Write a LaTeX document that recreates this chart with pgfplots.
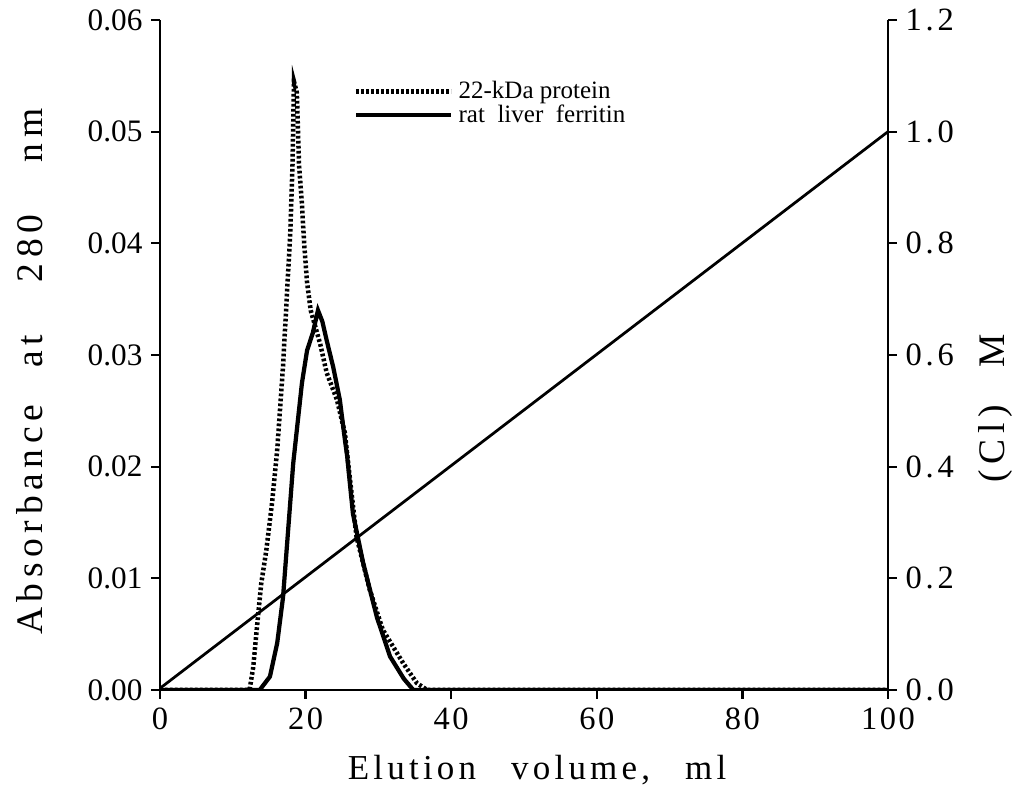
\documentclass[border=0pt]{standalone}
\usepackage{pgfplots}
\pgfplotsset{compat=1.18}
\usepackage{fontspec}
\setmainfont{Liberation Serif}
\newfontfamily\spaced[LetterSpace=8]{Liberation Serif}
\newfontfamily\midspaced[LetterSpace=12]{Liberation Serif}
\newfontfamily\wide[LetterSpace=15]{Liberation Serif}

\pgfplotsset{
  common/.style={
    scale only axis, width=291.2pt, height=268pt,
    xmin=0, xmax=100,
    tick align=outside,
    major tick length=3.5pt,
    axis line style={line width=1.1pt},
    every tick/.style={line width=0.9pt, black},
    /pgf/number format/assume math mode=true,
    ticklabel style={font=\fontsize{12.5}{14}\selectfont},
  }
}

\begin{document}
\begin{tikzpicture}
\begin{axis}[common, name=ax,
    ymin=0, ymax=0.06,
    axis y line*=left, axis x line*=bottom,
    xtick={0,20,40,60,80,100},
    ytick={0,0.01,0.02,0.03,0.04,0.05,0.06},
    yticklabel style={/pgf/number format/fixed, /pgf/number format/fixed zerofill, /pgf/number format/precision=2},
    scaled y ticks=false,
    xticklabel style={font=\spaced\fontsize{13}{15}\selectfont},
    xlabel={\midspaced\fontsize{14}{15}\selectfont Elution\quad volume,\quad ml},
    xlabel style={at={(axis description cs:0.518,0)}, anchor=center, yshift=-32pt},
    ylabel={\wide\fontsize{15}{16}\selectfont Absorbance\quad at\quad\ 280\quad\ nm},
    ylabel style={at={(axis description cs:0,0.475)}, anchor=center, yshift=52pt},
    legend style={draw=none, fill=none, at={(axis description cs:0.266,0.917)}, anchor=north west,
      font=\fontsize{10}{10}\selectfont, row sep=-3pt, inner sep=0pt},
    legend cell align=left,
    legend image code/.code={\draw[#1] (0pt,0pt) -- (38pt,0pt);},
]
\addplot[black, line width=1.8pt, dash pattern=on 1.1pt off 0.9pt] coordinates {
  (0,0) (12.3,0) (12.8,0.002) (13.3,0.0055) (13.9,0.0095) (14.6,0.0125)
  (15.4,0.0168) (16.1,0.0215) (16.9,0.029) (17.4,0.035) (17.9,0.041)
  (18.2,0.047) (18.4,0.0545) (18.8,0.0535) (19.1,0.047) (19.5,0.0435)
  (19.8,0.040) (20.2,0.0365) (20.7,0.034) (22.0,0.031) (22.9,0.0284)
  (24.3,0.026) (25.4,0.023) (25.9,0.020) (27.0,0.0137) (28.8,0.009)
  (30.6,0.0054) (33.4,0.0024) (35.3,0.0006) (36.7,0) (100,0)
};
\addlegendentry{22-kDa\ protein}
\addplot[black, line width=1.7pt] coordinates {
  (0,0) (13.7,0) (15.1,0.0012) (16.1,0.0042) (16.9,0.0083) (17.6,0.0143)
  (18.3,0.0203) (18.8,0.0233) (19.5,0.0275) (20.2,0.0304) (21.0,0.032)
  (21.7,0.034) (22.3,0.033) (22.9,0.0313) (23.8,0.0289) (24.7,0.026)
  (25.4,0.0224) (25.7,0.021) (26.5,0.0158) (27.9,0.0114) (29.8,0.0065)
  (31.6,0.003) (33.5,0.001) (34.8,0) (100,0)
};
\addlegendentry{rat\ \ liver\ \ ferritin}
\end{axis}
\begin{axis}[common,
    ymin=0, ymax=1.2,
    axis y line*=right, axis x line=none,
    ytick={0,0.2,0.4,0.6,0.8,1.0,1.2},
    yticklabel style={font=\midspaced\fontsize{13}{15}\selectfont, /pgf/number format/fixed, /pgf/number format/fixed zerofill, /pgf/number format/precision=1},
    ylabel={\wide\fontsize{15}{16}\selectfont (Cl)\quad M},
    ylabel style={at={(axis description cs:1,0.42)}, anchor=center, yshift=-42.8pt},
]
\addplot[black, line width=1.1pt] coordinates {(0,0.003) (100,1.0)};
\end{axis}
\pgfresetboundingbox
\path ([shift={(-64pt,-48.8pt)}]ax.south west) rectangle ([shift={(54.8pt,8pt)}]ax.north east);
\end{tikzpicture}
\end{document}
